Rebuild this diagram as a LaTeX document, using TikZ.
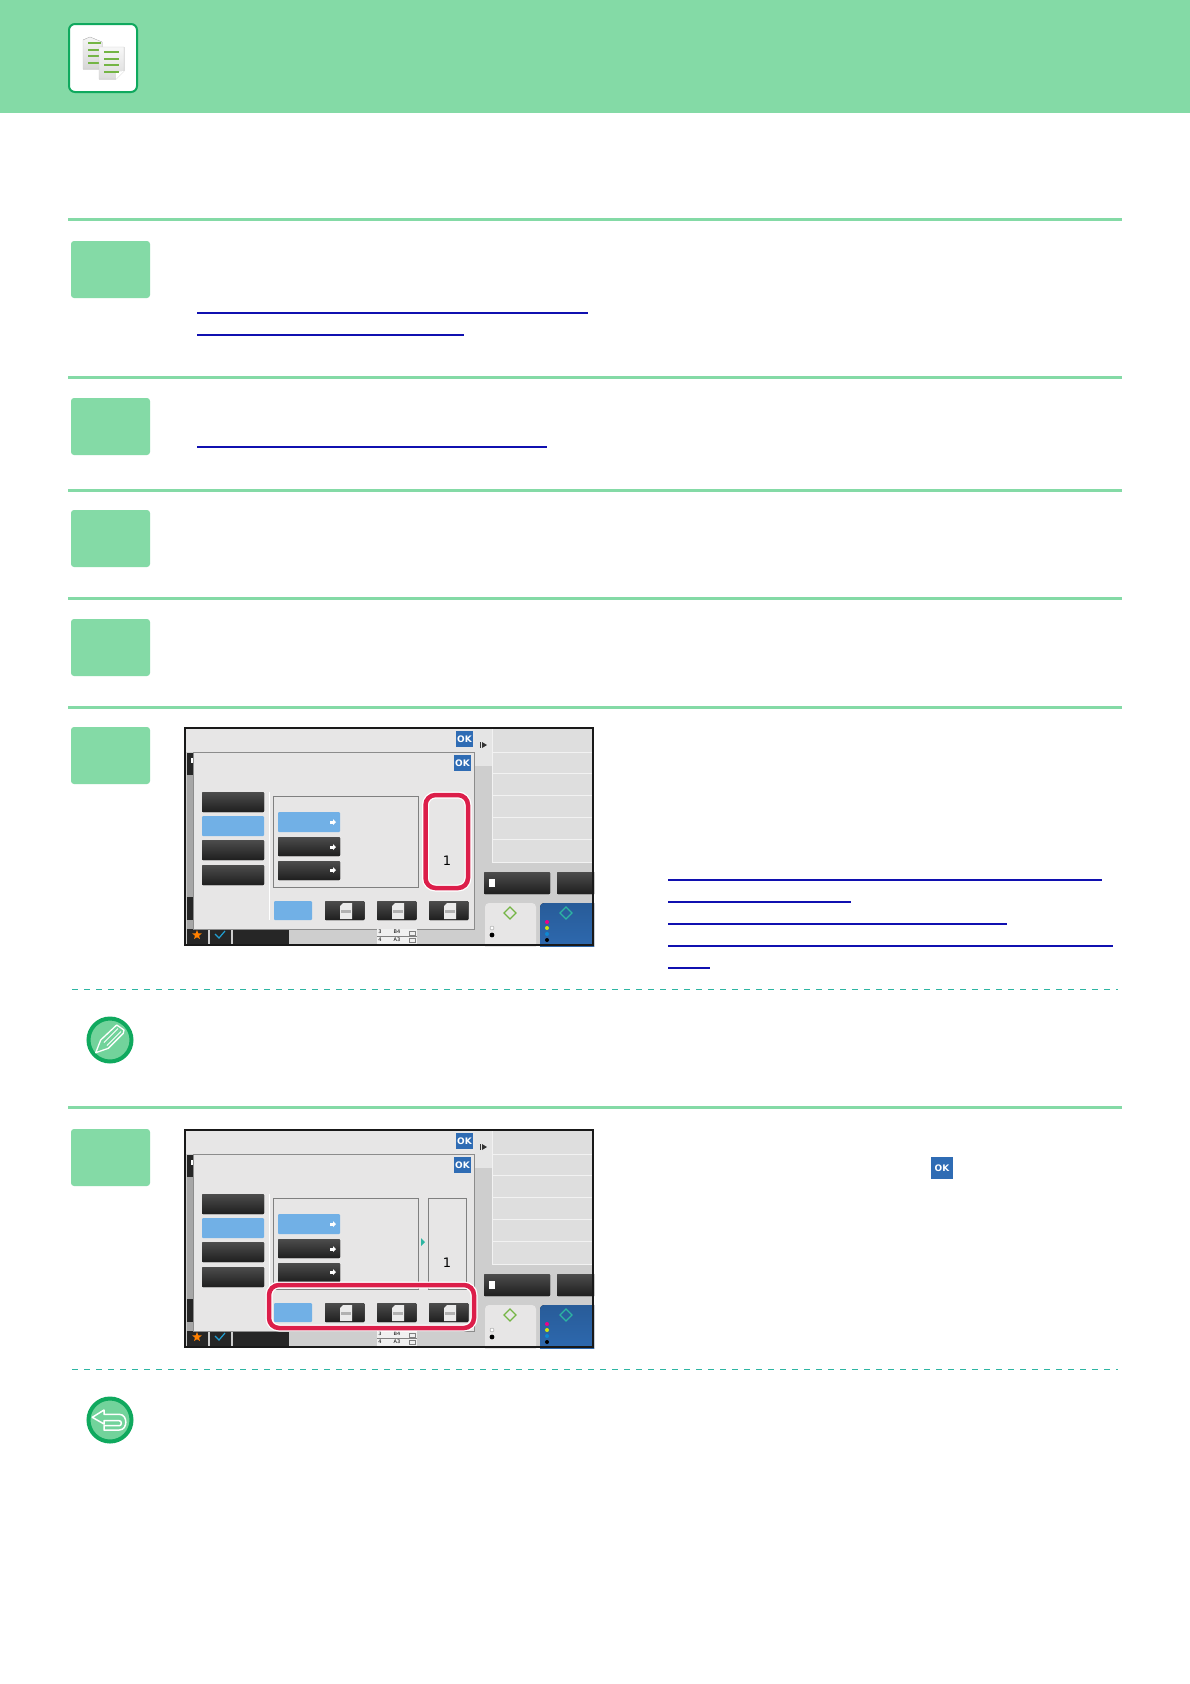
\documentclass[tikz,border=0pt]{standalone}
\usepackage{fontspec}
\setmainfont{DejaVu Sans}
\usepackage{xcolor}
\usepackage{tikz}
\usetikzlibrary{shapes.geometric}
\definecolor{mint}{HTML}{84DAA6}
\definecolor{leaf}{HTML}{0FA95E}
\definecolor{linkblue}{HTML}{1010B0}
\definecolor{teal2}{HTML}{2DB5A2}
\definecolor{okblue}{HTML}{2F6CB4}
\definecolor{skyblue}{HTML}{71B0E6}
\definecolor{marker}{HTML}{DC1E4A}
\definecolor{panelgray}{HTML}{E7E6E6}
\definecolor{basegray}{HTML}{CECECE}
\definecolor{olive2}{HTML}{74B545}

\tikzset{
    stepbox/.style={fill=mint, rounded corners=3pt},
    sectionrule/.style={draw=mint, line width=3pt},
    linkline/.style={draw=linkblue, line width=1.3pt},
    hintline/.style={draw=teal2, line width=1pt, dash pattern=on 5.5pt off 6.5pt},
    darkbtn/.style={top color=black!70, bottom color=black!88, rounded corners=1pt},
    bluebtn/.style={fill=skyblue, rounded corners=1pt},
    okbtn/.style={fill=okblue, text=white, inner sep=0pt, font=\fontsize{9}{11}\selectfont\bfseries,
        minimum width=17pt, minimum height=16pt},
    markbox/.style={draw=marker, line width=4.5pt, rounded corners=10pt,
        preaction={draw=white, line width=7pt}},
    smalltxt/.style={inner sep=0pt, font=\fontsize{5}{6}\selectfont},
    badge/.style={draw=leaf, fill=mint!85!leaf, line width=4pt},
    panel/.pic={
        \begin{scope}
        \clip (0,0) rectangle (410,219);
        \fill[basegray] (0,0) rectangle (410,219);
        \fill[panelgray] (2,2) rectangle (291,25);
        % right column
        \fill[black!10] (291,2) rectangle (308,39);
        \fill[black!13] (308,2) rectangle (410,135);
        \foreach \y in {25, 46, 68, 90, 112, 135}
            \draw[black!5, line width=0.8pt] (308,\y) -- (410,\y);
        \draw[black!5, line width=0.8pt] (308,2) -- (308,135);
        \fill[black!80] (296,15) rectangle (297,21);
        \fill[black!80] (298,15) -- (303,18) -- (298,21) -- cycle;
        \fill[darkbtn] (300,145) rectangle (366,167);
        \fill[darkbtn] (373,145) rectangle (416,167);
        \fill[white] (305,152) rectangle (311,160);
        % start keys
        \fill[panelgray, rounded corners=4pt] (301,176) rectangle (352,230);
        \fill[top color=okblue!85!black, bottom color=okblue, rounded corners=4pt] (356,176) rectangle (420,230);
        \draw[olive2, line width=1.2pt] (326,180) -- (332,186) -- (326,192) -- (320,186) -- cycle;
        \draw[teal2, line width=1.2pt] (382,180) -- (388,186) -- (382,192) -- (376,186) -- cycle;
        \filldraw[draw=black!40, fill=white] (308,201) circle (2pt);
        \fill[black] (308,208) circle (2.4pt);
        \foreach \y/\c in {195/magenta, 201/yellow!80!green, 207/cyan!70!blue, 213/black}
            \fill[\c] (363,\y) circle (2pt);
        % left strip and bottom bar
        \fill[black!35] (3,26) rectangle (9,202);
        \fill[black!85] (3,26) rectangle (9,48);
        \fill[white] (7,31) rectangle (9,36);
        \fill[black!85] (3,170) rectangle (9,193);
        \fill[black!85] (3,202) rectangle (24,219);
        \fill[black!85] (26,202) rectangle (47,219);
        \fill[black!85] (49,202) rectangle (105,219);
        \node[star, star points=5, star point ratio=2.3, fill=orange, inner sep=0pt, minimum size=10pt] (favstar) at (13,208) {};
        \draw[cyan!70!teal, line width=1.2pt] (31,207) -- (35,211) -- (41,204);
        % dialog
        \filldraw[draw=black!45, fill=panelgray, line width=0.8pt] (9,25) rectangle (290,202);
        \draw[white, line width=0.8pt] (85,65) -- (85,193);
        \node[okbtn] (oktop) at (280.5,12) {OK};
        \node[okbtn] (okdlg) at (278.5,36) {OK};
        \foreach \y in {65, 113, 138}
            \fill[darkbtn] (18,\y) rectangle (80,\y+20);
        \fill[bluebtn] (18,89) rectangle (80,109);
        \draw[black!50, line width=0.8pt] (89,69) rectangle (234,160);
        \draw[black!50, line width=0.8pt] (244,69) rectangle (282,160);
        \fill[bluebtn] (94,85) rectangle (156,105);
        \fill[darkbtn] (94,110) rectangle (156,129);
        \fill[darkbtn] (94,134) rectangle (156,153);
        \foreach \y in {95, 120, 143}{
            \fill[white] (146,\y-1.5) rectangle (149,\y+1.5);
            \fill[white] (149,\y-3) -- (152,\y) -- (149,\y+3) -- cycle;
        }
        \node[inner sep=0pt, font=\fontsize{13}{15}\selectfont] (pagenum) at (263,134) {1};
        % bottom keys
        \fill[bluebtn] (90,174) rectangle (128,193);
        \foreach \x in {141, 193, 245}
            \fill[darkbtn] (\x,174) rectangle (\x+39.5,193);
        \foreach \x in {156, 208, 260}{
            \fill[black!8] (\x+3,176) -- (\x+12,176) -- (\x+12,192) -- (\x,192) -- (\x,179) -- cycle;
            \fill[black!30] (\x+1,183) rectangle (\x+11,186);
        }
        % paper table
        \fill[black!6] (193,202) rectangle (233,219);
        \draw[black!50, line width=0.4pt] (193,209) -- (233,209);
        \draw[black!50, line width=0.4pt] (225,204) rectangle (231,208);
        \draw[black!50, line width=0.4pt] (225,211) rectangle (231,215);
        \node[smalltxt] (traythree) at (196,205) {3};
        \node[smalltxt] (traysizeb) at (213,204.5) {B4};
        \node[smalltxt] (trayfour) at (196,212.5) {4};
        \node[smalltxt] (traysizea) at (213,212.5) {A3};
        \end{scope}
        \draw[black!90, line width=2.4pt] (1,1) rectangle (409,218);
    }
}

\begin{document}
\begin{tikzpicture}[x=1pt, y=-1pt]
\useasboundingbox[fill=white] (0,0) rectangle (1190,1684);

\fill[mint] (0,0) rectangle (1190,113);
\filldraw[draw=leaf, fill=white, line width=2pt, rounded corners=6pt] (69,24) rectangle (137,92);

% copy sheets
\filldraw[draw=black!20, top color=black!4, bottom color=black!16, line width=0.4pt]
    (83,40) -- (90,37) -- (102,42) -- (102,69) -- (83,69) -- cycle;
\foreach \y in {43, 50, 56, 63}
    \draw[olive2, line width=1.6pt] (88,\y) -- (101,\y);
\filldraw[draw=black!20, top color=black!3, bottom color=black!14, line width=0.4pt]
    (99,47) -- (124,47) -- (124,71) -- (116,79) -- (99,79) -- cycle;
\fill[white] (124,71) -- (116,79) -- (116,72) -- cycle;
\foreach \y in {52, 59, 65, 72}
    \draw[olive2, line width=1.6pt] (104,\y) -- (119,\y);

\foreach \y in {219, 377, 490, 598, 707, 1107}
    \draw[sectionrule] (68,\y) -- (1122,\y);

\foreach \y in {241, 398, 510, 619, 727, 1129}
    \fill[stepbox] (71,\y) rectangle (150,\y + 57);

\foreach \a/\b/\y in {
    197/588/313, 197/464/335, 197/547/447,
    668/1102/880, 668/851/902, 668/1007/924, 668/1113/946, 668/710/968}
    \draw[linkline] (\a,\y) -- (\b,\y);

\draw[hintline] (72,989) -- (1118,989);
\draw[hintline] (72,1369) -- (1118,1369);

\pic at (184,727) {panel};
\pic at (184,1129) {panel};

\draw[markbox] (425.5,795) rectangle (468,888);
\fill[teal2] (421,1238) -- (425,1242) -- (421,1246) -- cycle;
\draw[markbox] (269,1285) rectangle (474,1328);

\node[okbtn, minimum width=22pt, minimum height=22pt] (oknote) at (942,1168) {OK};

% note badge
\draw[badge] (110,1040) circle (21.5pt);
\draw[white, line width=1.3pt, line join=round]
    (95.7,1052.7) -- (100.7,1040) -- (116.7,1025) -- (124,1030) -- (123.3,1033.3) -- (108.3,1048.3) -- cycle;
\draw[white, line width=1pt] (104,1042.5) -- (118,1028.5) (107,1045.5) -- (121,1031.5);

% back badge
\draw[badge] (110,1420) circle (21.5pt);
\draw[white, line width=1.5pt, line join=round]
    (92.3,1417.3) -- (104,1410) -- (104,1414.3) -- (119.3,1414.3)
    .. controls (128,1414.3) and (128,1430) .. (119.3,1430)
    -- (104,1430) -- (104,1425.7) -- (119.3,1425.7)
    .. controls (122,1425.7) and (122,1420.7) .. (119.3,1420.7)
    -- (104,1420.7) -- (104,1424) -- cycle;

\end{tikzpicture}
\end{document}
